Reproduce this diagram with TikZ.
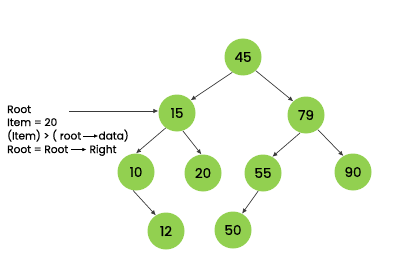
\documentclass[tikz,border=0pt]{standalone}
\usepackage{fontspec}
\setmainfont{Poppins}
\newfontfamily\notefont{Poppins}[FakeBold=0.6]
\usepackage{tikz}
\usetikzlibrary{arrows.meta}
\definecolor{leafgreen}{HTML}{92D050}
\definecolor{edgegray}{HTML}{3A3A3A}
\tikzset{nd/.style={circle,fill=leafgreen,minimum size=37pt,inner sep=0pt,font=\notefont\fontsize{13.5}{15}\selectfont},
  lnk/.style={draw=edgegray,line width=0.7pt,-{Latex[length=5pt,width=4.5pt]}},
  note/.style={anchor=base west,inner sep=0pt,font=\notefont\fontsize{10.6}{12}\selectfont}}
\newcommand{\ptrarr}{\tikz[baseline=-0.6ex]\draw[line width=0.6pt,-{Latex[length=4pt,width=3.5pt]}] (0,0) -- (15pt,0);}

\begin{document}
\begin{tikzpicture}[x=1pt,y=-1pt,>=Latex,line join=round]
\useasboundingbox (0,0) rectangle (396,262);
% --- tree
\node[nd] (n45) at (243,57) {45};
\node[nd] (n15) at (177,113) {15};
\node[nd] (n79) at (306,115) {79};
\node[nd] (n10) at (136,172) {10}; \node[nd] (n20) at (203,173) {20};
\node[nd] (n55) at (263,173) {55}; \node[nd] (n90) at (353,172) {90};
\node[nd] (n12) at (166,231) {12}; \node[nd] (n50) at (233,230) {50};
\draw[lnk] (n45.235) -- (n15.43); \draw[lnk] (n45.313) -- (n79.133);
\draw[lnk] (n15.233) -- (n10.90); \draw[lnk] (n15.288) -- (n20.95);
\draw[lnk] (n79.252) -- (n55.60); \draw[lnk] (n79.309) -- (n90.121);
\draw[lnk] (n10.261) -- (n12.123); \draw[lnk] (n55.255) -- (n50.61);
% --- search note
\node[note] (l1) at (7,113) {Root};
\node[note] (l2) at (7,126) {Item = 20};
\node[note] (l3) at (7,139.5) {(Item) > ( root\,\ptrarr data)};
\node[note] (l4) at (7,153) {Root = Root \ptrarr\ Right};
\coordinate (from) at (69,111);
\draw[lnk] (from) -- (from -| n15.west);
\end{tikzpicture}
\end{document}
